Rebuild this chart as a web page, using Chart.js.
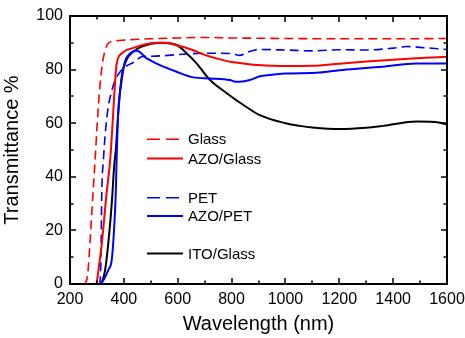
<!DOCTYPE html>
<html>
<head>
<meta charset="utf-8">
<script src="https://cdn.jsdelivr.net/npm/chart.js@4/dist/chart.umd.min.js"></script>
<style>
  html, body { margin: 0; padding: 0; background: #fff; }
  #wrap { width: 465px; height: 338px; }
</style>
</head>
<body>
<div id="wrap"><canvas id="myChart" width="465" height="338"></canvas></div>
<script>
// wavelengths (nm) and transmittance (%)
const glassWl = [200,250,258,265,274,283,293,300,308,320,330,342,360,400,450,500,600,700,800,900,1000,1200,1400,1600];
const glassT  = [0,0,0.5,3,15,30,46,58,70,82,87,89.8,90.5,91,91.3,91.5,91.8,92,91.8,91.7,91.6,91.5,91.5,91.6];

const azoGlassWl = [200,296,299,308,318,336,349,357,364,373,392,441,500,550,600,650,700,750,800,850,900,1000,1100,1200,1300,1400,1500,1600];
const azoGlassT  = [0,0,0.5,7,15,34,46,58,70,82,86,88.3,89.8,90,89,87.5,85.5,84,82.8,82.2,81.7,81.3,81.4,82.2,83,83.7,84.3,84.8];

const petWl = [200,305,311,315,318,324,330,342,355,367,385,404,441,466,500,550,600,700,800,830,860,900,1000,1100,1200,1300,1400,1450,1500,1600];
const petT  = [0,0,0.5,10,34,46,55,66,72,76,79,81,83,84.8,85,85.2,85.6,86.1,86,85.3,86.5,87.5,87.3,87,87.4,87.3,88,88.6,88.3,87.5];

const azoPetWl = [200,310,318,330,342,355,364,370,373,379,392,404,423,448,485,534,596,658,720,794,815,831,868,905,943,1000,1128,1200,1300,1362,1487,1600];
const azoPetT  = [0,0,0.5,2.5,5.2,9,21,34,46,63.7,76,83,86,87,84.2,81.7,79.2,77.1,76.7,76.1,75.5,75.5,76.1,77.5,78,78.5,78.9,79.8,80.6,81.1,82.3,82.3];

const itoWl = [200,312,318,330,342,355,364,370,379,392,410,435,466,534,596,633,670,720,782,844,905,1000,1054,1100,1203,1300,1363,1487,1574,1600];
const itoT  = [0,0,0.5,5,15,30,44,50,63.7,77.4,83.6,86.7,88.6,90,89.2,86.1,82.3,76.1,71.2,66.8,63,60,59,58.4,57.8,58.3,59,60.6,60.2,59.5];

const xTicks = [200,400,600,800,1000,1200,1400,1600];
const yTicks = [0,20,40,60,80,100];

function pts(wl, t) { return wl.map((w, i) => ({x: w, y: t[i]})); }

const RED = "#ff0000", BLUE = "#0000ff", BLACK = "#000000";

const series = [
  {label: "Glass",     data: pts(glassWl, glassT),       borderColor: RED,   borderDash: [9,5], borderWidth: 1.6},
  {label: "AZO/Glass", data: pts(azoGlassWl, azoGlassT), borderColor: RED,   borderDash: [],    borderWidth: 2},
  {label: "PET",       data: pts(petWl, petT),           borderColor: BLUE,  borderDash: [9,5], borderWidth: 1.6},
  {label: "AZO/PET",   data: pts(azoPetWl, azoPetT),     borderColor: BLUE,  borderDash: [],    borderWidth: 2},
  {label: "ITO/Glass", data: pts(itoWl, itoT),           borderColor: BLACK, borderDash: [],    borderWidth: 2}
];
// legend rows, as transmittance level inside the plot
const legendRows = [54, 46.8, 32.2, 25.4, 11.4];

const frame = {
  id: "frame",
  afterDatasetsDraw(chart) {
    const {ctx, chartArea: a, scales} = chart;
    const xs = scales.x, ys = scales.y;
    ctx.save();
    ctx.strokeStyle = "#000";
    ctx.lineWidth = 2;
    ctx.strokeRect(a.left, a.top, a.right - a.left, a.bottom - a.top);
    ctx.lineWidth = 1.5;
    ctx.beginPath();
    for (let v = 200; v <= 1600; v += 100) {
      const px = Math.round(xs.getPixelForValue(v));
      const len = v % 200 === 0 ? 6 : 3.5;
      ctx.moveTo(px, a.bottom); ctx.lineTo(px, a.bottom - len);
      ctx.moveTo(px, a.top); ctx.lineTo(px, a.top + len);
    }
    for (let v = 0; v <= 100; v += 10) {
      const py = Math.round(ys.getPixelForValue(v));
      const len = v % 20 === 0 ? 6 : 3.5;
      ctx.moveTo(a.left, py); ctx.lineTo(a.left + len, py);
      ctx.moveTo(a.right, py); ctx.lineTo(a.right - len, py);
    }
    ctx.stroke();
    // legend
    ctx.font = "15px 'Liberation Sans', Arial, sans-serif";
    ctx.textBaseline = "middle";
    ctx.fillStyle = "#000";
    series.forEach((s, i) => {
      const py = ys.getPixelForValue(legendRows[i]);
      ctx.strokeStyle = s.borderColor;
      ctx.lineWidth = s.borderWidth;
      ctx.setLineDash(s.borderDash.length ? [13, 6] : []);
      ctx.beginPath();
      ctx.moveTo(147, py); ctx.lineTo(183, py);
      ctx.stroke();
      ctx.setLineDash([]);
      ctx.fillText(s.label, 188, py + 1);
    });
    ctx.restore();
  }
};

new Chart("myChart", {
  type: "line",
  data: {
    datasets: series.map(s => Object.assign({}, s, {
      pointRadius: 0,
      fill: false,
      cubicInterpolationMode: "monotone"
    }))
  },
  options: {
    responsive: false,
    animation: false,
    layout: {padding: {top: 16, right: 18, left: 0, bottom: 0}},
    plugins: {legend: {display: false}, tooltip: {enabled: false}},
    scales: {
      x: {
        type: "linear", min: 200, max: 1600,
        afterBuildTicks: s => { s.ticks = xTicks.map(v => ({value: v})); },
        afterFit: s => { s.height = 54; s.paddingLeft = 0; s.paddingRight = 0; },
        grid: {display: false, drawTicks: false},
        border: {display: false},
        ticks: {color: "#000", padding: 6, maxRotation: 0, callback: v => String(v),
                font: {family: "'Liberation Sans', Arial", size: 16}},
        title: {display: true, text: "Wavelength (nm)", color: "#000", padding: {top: 0, bottom: 2},
                font: {family: "'Liberation Sans', Arial", size: 20}}
      },
      y: {
        min: 0, max: 100,
        afterBuildTicks: s => { s.ticks = yTicks.map(v => ({value: v})); },
        afterFit: s => { s.width = 70; s.paddingTop = 0; s.paddingBottom = 0; },
        grid: {display: false, drawTicks: false},
        border: {display: false},
        ticks: {color: "#000", padding: 7, font: {family: "'Liberation Sans', Arial", size: 16}},
        title: {display: true, text: "Transmittance %", color: "#000", padding: {top: 0, bottom: 0},
                font: {family: "'Liberation Sans', Arial", size: 20}}
      }
    }
  },
  plugins: [frame]
});
</script>
</body>
</html>
